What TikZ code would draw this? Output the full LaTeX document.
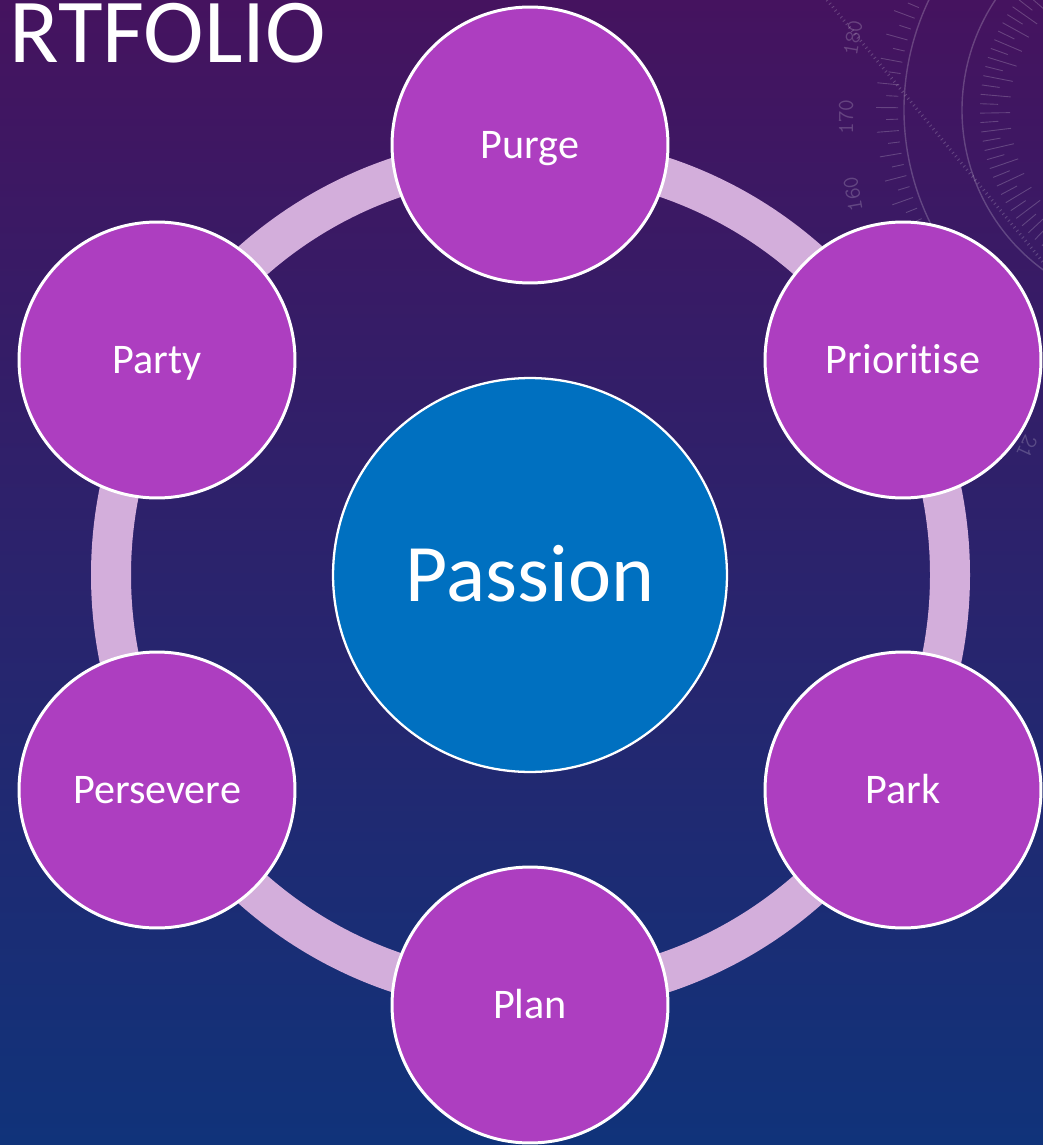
\documentclass[tikz,border=0pt]{standalone}
\usepackage{fontspec}
\setmainfont{Carlito}[Ligatures=NoCommon]
\definecolor{bgtop}{HTML}{45135F}
\definecolor{bgmid}{HTML}{2C1F6C}
\definecolor{bgbot}{HTML}{10337A}
\definecolor{ringc}{HTML}{D3AEDB}
\definecolor{petalc}{HTML}{AD3EC0}
\definecolor{hubc}{HTML}{0070C0}
\begin{document}
\begin{tikzpicture}[x=0.02cm,y=-0.02cm,
  petal/.style={circle, fill=petalc, draw=white, line width=1.7pt, minimum size=5.52cm, inner sep=0pt, text=white, font=\fontsize{24}{28}\selectfont, text height=15.4pt, text depth=0pt},
  hub/.style={circle, fill=hubc, draw=white, line width=1.3pt, minimum size=7.88cm, inner sep=0pt, text=white, font=\fontsize{46.5}{55}\selectfont, text height=30pt, text depth=0pt},
  faint/.style={draw=white, opacity=0.2, line width=0.5pt},
  dialnum/.style={text=white, opacity=0.2, font=\ttfamily\fontsize{13}{14}\selectfont, inner sep=0pt}]
\useasboundingbox (0,0) rectangle (1043,1145);
\shade[top color=bgtop, middle color=bgmid, bottom color=bgbot] (0,0) rectangle (1043,1145);

% dial decoration (top right)
\coordinate (dialc) at (1160,110);
\draw[faint, line width=0.8pt] (dialc) ++(206:256) arc[start angle=206, end angle=120, radius=256];
\draw[faint, line width=0.8pt] (dialc) ++(236:198) arc[start angle=236, end angle=120, radius=198];
\foreach \a [count=\i] in {208,205.5,...,130} {
  \pgfmathsetmacro{\rr}{mod(\i,2)==0 ? 284 : 274}
  \draw[faint] (dialc) ++(\a:262) -- ++(\a:\rr-262);
}
\foreach \a [count=\i] in {236,233,...,130} {
  \pgfmathsetmacro{\rr}{mod(\i,2)==0 ? 150 : 162}
  \draw[faint] (dialc) ++(\a:180) -- ++(\a:\rr-180);
}
\draw[faint, dotted, line width=1.8pt] (827,0) -- (1043,262);
\node[dialnum, rotate=80] (n180) at (853,38) {180};
\node[dialnum, rotate=90] (n170) at (846,117) {170};
\node[dialnum, rotate=100] (n160) at (853,194) {160};
\node[dialnum, rotate=-115] (n21) at (1027,447) {21};

% title
\node[anchor=base west, inner sep=0pt, text=white, font=\fontsize{52}{60}\selectfont] (title) at (9,63) {RTFOLIO};

% ring
\coordinate (c) at (530.5,575);
\draw[ringc, line width=0.8cm] (c) circle[radius=419.5];

% circles
\node[hub] (passion) at (530,575) {Passion};
\node[petal] (purge) at (530,145) {Purge};
\node[petal] (prioritise) at (903,360) {Prioritise};
\node[petal] (park) at (903,790) {Park};
\node[petal] (plan) at (530,1005) {Plan};
\node[petal] (persevere) at (157,790) {Persevere};
\node[petal] (party) at (157,360) {Party};
\end{tikzpicture}
\end{document}
